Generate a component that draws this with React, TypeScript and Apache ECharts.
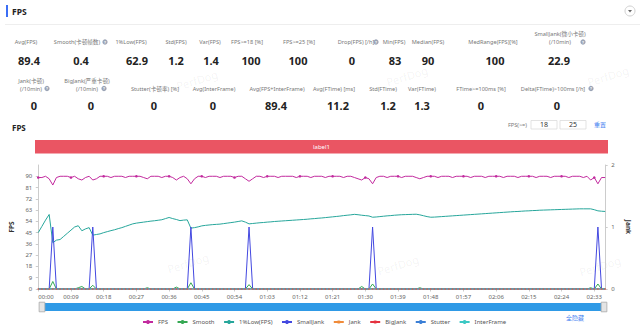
import React, { useEffect, useRef } from "react";
import * as echarts from "echarts";

const FONT = '"Noto Sans", "Noto Sans CJK SC", sans-serif';

const SERIES_NAMES = ["FPS", "Smooth", "1%Low(FPS)", "SmallJank", "Jank", "BigJank", "Stutter", "InterFrame"];
const SERIES_COLORS = ["#c22a9e", "#35a853", "#27a69b", "#4348e0", "#f08b3a", "#e5323f", "#3b7fd6", "#3cc8c4"];

const FPS = [
  89, 89, 90, 88, 83, 89, 90, 90, 90, 89,
  90, 88, 87, 89, 90, 87, 88, 90, 90, 90,
  89, 90, 90, 90, 89, 90, 90, 90, 90, 89,
  88, 90, 90, 90, 89, 90, 90, 89, 87, 89,
  90, 88, 84, 88, 90, 90, 89, 90, 90, 90,
  89, 90, 90, 90, 89, 90, 90, 88, 86, 88,
  90, 90, 89, 90, 90, 90, 89, 90, 90, 90,
  90, 89, 90, 90, 90, 89, 90, 90, 90, 89,
  90, 90, 90, 90, 89, 90, 90, 89, 88, 87,
  89, 88, 84, 89, 90, 90, 89, 90, 90, 90,
  89, 90, 90, 90, 89, 88, 89, 90, 90, 90,
  89, 90, 90, 90, 89, 90, 90, 90, 90, 89,
  90, 90, 90, 89, 90, 90, 90, 90, 89, 90,
  90, 90, 89, 90, 90, 90, 90, 89, 90, 90,
  90, 89, 90, 90, 90, 90, 89, 90, 90, 90,
  89, 90, 87, 89, 84, 89, 89,
];

const SMOOTH = [
  0, 0, 0, 0, 6, 0, 0, 0, 0, 0,
  0, 1, 2, 0, 0, 3, 0, 0, 0, 0,
  0, 0, 0, 0, 0, 0, 0, 0, 0, 0,
  1, 0, 0, 0, 0, 0, 0, 0, 1.5, 0,
  0, 0, 5, 0, 0, 0, 0, 0, 0, 0,
  0, 0, 0, 0, 0, 0, 0, 0, 3.5, 0,
  0, 0, 0, 0, 0, 0, 0, 0, 0, 0,
  0, 0, 0, 0, 0, 0, 0, 0, 0, 0,
  0, 0, 0, 0, 0, 0, 0, 0, 0, 2,
  0, 0, 4, 0, 0, 0, 0, 0, 0, 0,
  0, 0, 0, 0, 0, 1, 0, 0, 0, 0,
  0, 0, 0, 0, 0, 0, 0, 0, 0, 0,
  0, 0, 0, 0, 0, 0, 0, 0, 0, 0,
  0, 0, 0, 0, 0, 0, 0, 0, 0, 0,
  0, 0, 0, 0, 0, 0, 0, 0, 0, 0,
  0, 0, 1, 0, 4, 0, 0,
];

const LOW1 = [
  45, 50, 55, 59.5, 37, 39, 39.5, 42, 44.5, 47,
  49.5, 50.5, 46.5, 48, 49, 43, 43.5, 44, 45, 45.8,
  46.6, 47.3, 48.2, 49, 50, 51, 52, 52.6, 53, 53.4,
  53.8, 54.2, 54.5, 54.9, 55.3, 56.2, 57.1, 56.2, 55.5, 54.6,
  55, 55.2, 48.6, 49, 49.6, 50.4, 50.8, 51.1, 51.4, 51.6,
  51.8, 52.2, 52.6, 53, 53.4, 53.9, 54.4, 53.4, 52, 52.3,
  52.6, 52.9, 53.1, 53.4, 53.6, 53.9, 54.1, 54.3, 54.5, 54.7,
  54.9, 55.1, 55.3, 55.5, 55.7, 56, 56.2, 56.5, 56.7, 57,
  57.3, 57.6, 57.9, 58.2, 58.6, 58.9, 59.2, 59.6, 59.3, 58.9,
  58.6, 58.3, 57.3, 57.5, 57.8, 58.1, 58.4, 58.6, 58.9, 59.1,
  59.3, 59.4, 59.5, 59.6, 59.7, 59.2, 58.5, 57.8, 57.3, 57.4,
  57.6, 57.8, 58, 58.2, 58.4, 58.6, 58.8, 59, 59.2, 59.4,
  59.6, 59.8, 60, 60.2, 60.4, 60.6, 60.8, 61, 61.2, 61.4,
  61.6, 61.8, 61.9, 62.1, 62.3, 62.4, 62.6, 62.7, 62.9, 63,
  63.1, 63.2, 63.3, 63.4, 63.5, 63.6, 63.7, 63.8, 63.9, 64,
  64, 64, 64, 63.3, 62.4, 62.1, 61.9,
];

const SMALL_JANK = [
  0, 0, 0, 0, 1, 0, 0, 0, 0, 0,
  0, 0, 0, 0, 0, 1, 0, 0, 0, 0,
  0, 0, 0, 0, 0, 0, 0, 0, 0, 0,
  0, 0, 0, 0, 0, 0, 0, 0, 0, 0,
  0, 0, 1, 0, 0, 0, 0, 0, 0, 0,
  0, 0, 0, 0, 0, 0, 0, 0, 1, 0,
  0, 0, 0, 0, 0, 0, 0, 0, 0, 0,
  0, 0, 0, 0, 0, 0, 0, 0, 0, 0,
  0, 0, 0, 0, 0, 0, 0, 0, 0, 0,
  0, 0, 1, 0, 0, 0, 0, 0, 0, 0,
  0, 0, 0, 0, 0, 0, 0, 0, 0, 0,
  0, 0, 0, 0, 0, 0, 0, 0, 0, 0,
  0, 0, 0, 0, 0, 0, 0, 0, 0, 0,
  0, 0, 0, 0, 0, 0, 0, 0, 0, 0,
  0, 0, 0, 0, 0, 0, 0, 0, 0, 0,
  0, 0, 0, 0, 1, 0, 0,
];

// Jank, BigJank, Stutter and InterFrame all read 0 over the whole capture
const ZERO_LINE = [
  0, 0, 0, 0, 0, 0, 0, 0, 0, 0,
  0, 0, 0, 0, 0, 0, 0, 0, 0, 0,
  0, 0, 0, 0, 0, 0, 0, 0, 0, 0,
  0, 0, 0, 0, 0, 0, 0, 0, 0, 0,
  0, 0, 0, 0, 0, 0, 0, 0, 0, 0,
  0, 0, 0, 0, 0, 0, 0, 0, 0, 0,
  0, 0, 0, 0, 0, 0, 0, 0, 0, 0,
  0, 0, 0, 0, 0, 0, 0, 0, 0, 0,
  0, 0, 0, 0, 0, 0, 0, 0, 0, 0,
  0, 0, 0, 0, 0, 0, 0, 0, 0, 0,
  0, 0, 0, 0, 0, 0, 0, 0, 0, 0,
  0, 0, 0, 0, 0, 0, 0, 0, 0, 0,
  0, 0, 0, 0, 0, 0, 0, 0, 0, 0,
  0, 0, 0, 0, 0, 0, 0, 0, 0, 0,
  0, 0, 0, 0, 0, 0, 0, 0, 0, 0,
  0, 0, 0, 0, 0, 0, 0,
];
const JANK = ZERO_LINE;
const BIG_JANK = ZERO_LINE;
const STUTTER = ZERO_LINE;
const INTER_FRAME = ZERO_LINE;

const TIME_LABELS = FPS.map((_, i) => {
  const m = Math.floor(i / 60);
  const s = i % 60;
  return `${String(m).padStart(2, "0")}:${String(s).padStart(2, "0")}`;
});

const LEFT_AXIS = { min: 0, max: 99, interval: 9 };
const RIGHT_AXIS = { min: 0, max: 2, interval: 1 };

const STAT_LABELS_1 = [
  "Avg(FPS)", "Smooth(卡顿帧数)", "1%Low(FPS)", "Std(FPS)", "Var(FPS)", "FPS>=18 [%]",
  "FPS>=25 [%]", "Drop(FPS) [/h]", "Min(FPS)", "Median(FPS)", "MedRange(FPS)[%]",
  "SmallJank(微小卡顿)\n(/10min)",
];
const STAT_VALUES_1 = ["89.4", "0.4", "62.9", "1.2", "1.4", "100", "100", "0", "83", "90", "100", "22.9"];
const STAT_LABELS_2 = [
  "Jank(卡顿)\n(/10min)", "BigJank(严重卡顿)\n(/10min)", "Stutter(卡顿率) [%]", "Avg(InterFrame)",
  "Avg(FPS+InterFrame)", "Avg(FTime) [ms]", "Std(FTime)", "Var(FTime)", "FTime>=100ms [%]",
  "Delta(FTime)>100ms [/h]",
];
const STAT_VALUES_2 = ["0", "0", "0", "0", "89.4", "11.2", "1.2", "1.3", "0", "0"];
const FPS_THRESHOLDS = ["18", "25"];
const BAND_LABEL = "label1";

// layout: [label centre x, value centre x, info icon x | null]
const ROW1_POS: [number, number, number | null][] = [
  [26, 29, null], [77, 81, 105], [131, 137, null], [176, 176, null], [210, 211, null],
  [247, 251, null], [299, 298, null], [356, 352, 376], [394, 395, null], [428, 428, null],
  [493, 495, null], [560, 559, 583],
];
const ROW2_POS: [number, number, number | null][] = [
  [31, 34, 47], [87, 91, 104], [155, 154, null], [214, 213, null], [277, 276, null],
  [334, 338, null], [383, 388, null], [422, 422, null], [481, 481, null], [553, 557, 591],
];

function infoIcon(x: number, y: number) {
  return {
    type: "group",
    x,
    y,
    children: [
      { type: "circle", shape: { cx: 0, cy: 0, r: 2.6 }, style: { fill: "#9aa3b5" } },
      {
        type: "text",
        x: 0,
        y: 0.2,
        style: { text: "?", fill: "#fff", fontSize: 4.2, fontWeight: "bold", fontFamily: FONT, align: "center", verticalAlign: "middle" },
      },
    ],
  };
}

function buildGraphics() {
  const g: any[] = [];
  // header
  g.push({ type: "rect", shape: { x: 6, y: 5, width: 2, height: 12 }, style: { fill: "#3b6ef5" } });
  g.push({ type: "text", x: 12, y: 11, style: { text: "FPS", fill: "#222", fontSize: 8.5, fontWeight: "bold", fontFamily: FONT, verticalAlign: "middle" } });
  g.push({ type: "circle", shape: { cx: 630, cy: 11, r: 5 }, style: { fill: "#fff", stroke: "#d0d0d0", lineWidth: 1 } });
  g.push({ type: "polygon", shape: { points: [[628, 10], [632, 10], [630, 12.5]] }, style: { fill: "#666" } });
  g.push({ type: "line", shape: { x1: 5, y1: 24.5, x2: 640, y2: 24.5 }, style: { stroke: "#eeeeee", lineWidth: 1 } });

  // watermarks
  const wm = [[197, 80], [407, 76], [608, 76], [188, 263], [398, 265], [600, 266]];
  wm.forEach(([x, y]) =>
    g.push({ type: "text", x, y, rotation: 0.3, silent: true, style: { text: "PerfDog", fill: "rgba(0,0,0,0.06)", fontSize: 11, fontFamily: FONT, align: "center", verticalAlign: "middle" } })
  );

  // stats rows
  const rows = [
    { labels: STAT_LABELS_1, values: STAT_VALUES_1, pos: ROW1_POS, labelBottom: 46, valueY: 60 },
    { labels: STAT_LABELS_2, values: STAT_VALUES_2, pos: ROW2_POS, labelBottom: 92.5, valueY: 105 },
  ];
  rows.forEach((row) => {
    row.labels.forEach((lab, i) => {
      const [lx, vx, ix] = row.pos[i];
      g.push({ type: "text", x: lx, y: row.labelBottom, style: { text: lab, fill: "#777", fontSize: 5.6, lineHeight: 8, fontFamily: FONT, align: "center", verticalAlign: "bottom" } });
      g.push({ type: "text", x: vx, y: row.valueY, style: { text: row.values[i], fill: "#222", fontSize: 11, fontWeight: "bold", fontFamily: FONT, align: "center", verticalAlign: "middle" } });
      if (ix !== null) g.push(infoIcon(ix, row.labelBottom - 4));
    });
  });

  // chart title
  g.push({ type: "text", x: 12, y: 127, style: { text: "FPS", fill: "#222", fontSize: 8, fontWeight: "bold", fontFamily: FONT, verticalAlign: "middle" } });
  // thresholds
  g.push({ type: "text", x: 527, y: 124.5, style: { text: "FPS(>=)", fill: "#777", fontSize: 5.6, fontFamily: FONT, align: "right", verticalAlign: "middle" } });
  [[531, FPS_THRESHOLDS[0]], [560, FPS_THRESHOLDS[1]]].forEach(([x, t]) => {
    g.push({ type: "rect", shape: { x: x as number, y: 120.5, width: 26, height: 8.5 }, style: { fill: "#fff", stroke: "#dcdcdc", lineWidth: 0.8 } });
    g.push({ type: "text", x: (x as number) + 13, y: 124.8, style: { text: t as string, fill: "#333", fontSize: 7, fontFamily: FONT, align: "center", verticalAlign: "middle" } });
  });
  g.push({ type: "text", x: 600, y: 124.5, style: { text: "重置", fill: "#3d7cf0", fontSize: 6, fontFamily: FONT, align: "center", verticalAlign: "middle" } });

  // label band
  g.push({ type: "rect", shape: { x: 35, y: 140, width: 573, height: 13.5 }, style: { fill: "#ea5563" } });
  g.push({ type: "text", x: 321.5, y: 146.8, style: { text: BAND_LABEL, fill: "#fff", fontSize: 6, fontFamily: FONT, align: "center", verticalAlign: "middle" } });

  // hide-all link
  g.push({ type: "text", x: 575, y: 318, style: { text: "全隐藏", fill: "#3d7cf0", fontSize: 6, fontFamily: FONT, align: "center", verticalAlign: "middle" } });
  return g;
}

export default function App() {
  const ref = useRef<HTMLDivElement>(null);
  useEffect(() => {
    if (!ref.current) return;
    const chart = echarts.init(ref.current, undefined, { renderer: "svg" });
    const data = [FPS, SMOOTH, LOW1, SMALL_JANK, JANK, BIG_JANK, STUTTER, INTER_FRAME];
    const withSymbol = [true, false, false, false, true, true, false, false];
    const yIndex = [0, 0, 0, 1, 1, 1, 0, 0];
    const series = SERIES_NAMES.map((name, i) => ({
      name,
      type: "line",
      data: data[i],
      yAxisIndex: yIndex[i],
      symbol: withSymbol[i] ? "circle" : "none",
      showSymbol: withSymbol[i],
      symbolSize: i === 0 ? 2.6 : 1.5,
      itemStyle: { color: SERIES_COLORS[i], opacity: i === 0 || !withSymbol[i] ? 1 : 0.5 },
      lineStyle: { color: SERIES_COLORS[i], width: 1 },
      emphasis: { disabled: true },
    }));
    const axisLabelStyle = { fontSize: 6, color: "#666", fontFamily: FONT };
    chart.setOption({
      animation: false,
      textStyle: { fontFamily: FONT },
      grid: { left: 35, right: 32, top: 165, bottom: 38, containLabel: false },
      legend: {
        data: SERIES_NAMES,
        left: 137,
        top: 314,
        itemWidth: 10,
        itemHeight: 5,
        itemGap: 8.5,
        textStyle: { fontSize: 6, color: "#555", fontFamily: FONT },
      },
      xAxis: {
        type: "category",
        data: TIME_LABELS,
        boundaryGap: false,
        axisLine: { lineStyle: { color: "#ccc" } },
        axisTick: { show: true, interval: 8, length: 2.5, lineStyle: { color: "#ccc" } },
        axisLabel: { ...axisLabelStyle, interval: 8, margin: 5, alignMinLabel: "left" },
      },
      yAxis: [
        {
          type: "value",
          min: LEFT_AXIS.min,
          max: LEFT_AXIS.max,
          interval: LEFT_AXIS.interval,
          name: "FPS",
          nameLocation: "middle",
          nameGap: 18,
          nameRotate: 90,
          nameTextStyle: { fontSize: 6.5, fontWeight: "bold", color: "#333", fontFamily: FONT },
          axisLine: { show: true, lineStyle: { color: "#ccc" } },
          axisTick: { show: true, length: 2.5, lineStyle: { color: "#ccc" } },
          axisLabel: { ...axisLabelStyle, margin: 6, showMaxLabel: false },
          splitLine: { show: false },
        },
        {
          type: "value",
          min: RIGHT_AXIS.min,
          max: RIGHT_AXIS.max,
          interval: RIGHT_AXIS.interval,
          position: "right",
          name: "Jank",
          nameLocation: "middle",
          nameGap: 14,
          nameRotate: -90,
          nameTextStyle: { fontSize: 6.5, fontWeight: "bold", color: "#333", fontFamily: FONT },
          axisLine: { show: true, lineStyle: { color: "#ccc" } },
          axisTick: { show: true, length: 2.5, lineStyle: { color: "#ccc" } },
          axisLabel: { ...axisLabelStyle, margin: 6 },
          splitLine: { show: false },
        },
      ],
      dataZoom: [
        {
          type: "slider",
          xAxisIndex: 0,
          start: 0,
          end: 100,
          left: 40,
          right: 36,
          bottom: 16,
          height: 8,
          showDetail: false,
          showDataShadow: false,
          brushSelect: false,
          moveHandleSize: 0,
          borderColor: "transparent",
          backgroundColor: "#eeeeee",
          fillerColor: "#2f9ae6",
          handleIcon: "path://M0,0H6V10H0Z",
          handleSize: "120%",
          handleStyle: { color: "#e4e4e4", borderColor: "#a8a8a8", borderWidth: 0.8 },
        },
      ],
      graphic: buildGraphics(),
      series,
    });
    return () => chart.dispose();
  }, []);
  return <div ref={ref} style={{ position: "fixed", left: 0, top: 0, width: 640, height: 327, background: "#fff" }} />;
}
